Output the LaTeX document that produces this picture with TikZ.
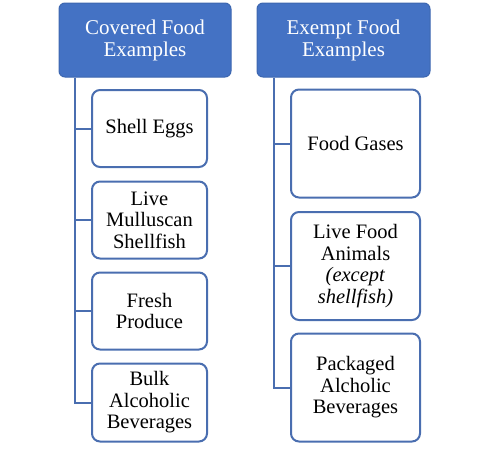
\documentclass[tikz,border=0pt]{standalone}
\usepackage{fontspec}
\setmainfont{Liberation Serif}
\definecolor{hdrblue}{HTML}{4472C4}
\definecolor{edgeblue}{HTML}{4A6EB0}
\begin{document}
\begin{tikzpicture}[x=1pt,y=-1pt,
  header/.style={draw=hdrblue!90!black, line width=1pt, fill=hdrblue, rounded corners=6pt,
    text=white, align=center, inner sep=0pt,
    font=\fontsize{21}{22}\selectfont},
  item/.style={draw=edgeblue, line width=2pt, fill=white, rounded corners=8pt,
    align=center, inner sep=0pt, text=black,
    font=\fontsize{20.5}{21.5}\selectfont},
  link/.style={draw=edgeblue, line width=2pt}]
\useasboundingbox (0,0) rectangle (488,448);
% headers
\node[header, minimum width=172pt, minimum height=74pt] (hL) at (145,40) {Covered Food\\Examples};
\node[header, minimum width=173pt, minimum height=74pt] (hR) at (343.5,40) {Exempt Food\\Examples};
% left items
\node[item, minimum width=115pt, minimum height=77pt] (l1) at (149.5,128.5) {Shell Eggs};
\node[item, minimum width=115pt, minimum height=77pt] (l2) at (149.5,220) {Live\\Mulluscan\\Shellfish};
\node[item, minimum width=115pt, minimum height=77pt] (l3) at (149.5,311) {Fresh\\Produce};
\node[item, minimum width=115pt, minimum height=78pt] (l4) at (149.5,402.5) {Bulk\\Alcoholic\\Beverages};
% right items
\node[item, minimum width=129pt, minimum height=108pt] (r1) at (355.5,143.5) {Food Gases};
\node[item, minimum width=129pt, minimum height=108pt] (r2) at (355.5,266) {Live Food\\Animals\\\textit{(except}\\\textit{shellfish)}};
\node[item, minimum width=129pt, minimum height=108pt] (r3) at (355.5,387.5) {Packaged\\Alcholic\\Beverages};
% connectors
\coordinate (lt) at ([xshift=16pt]hL.south west);
\coordinate (rt) at ([xshift=17pt]hR.south west);
\draw[link] (lt) |- (l4.west);
\draw[link] (l1.west) -- (l1.west -| lt);
\draw[link] (l2.west) -- (l2.west -| lt);
\draw[link] (l3.west) -- (l3.west -| lt);
\draw[link] (rt) |- (r3.west);
\draw[link] (r1.west) -- (r1.west -| rt);
\draw[link] (r2.west) -- (r2.west -| rt);
\end{tikzpicture}
\end{document}
